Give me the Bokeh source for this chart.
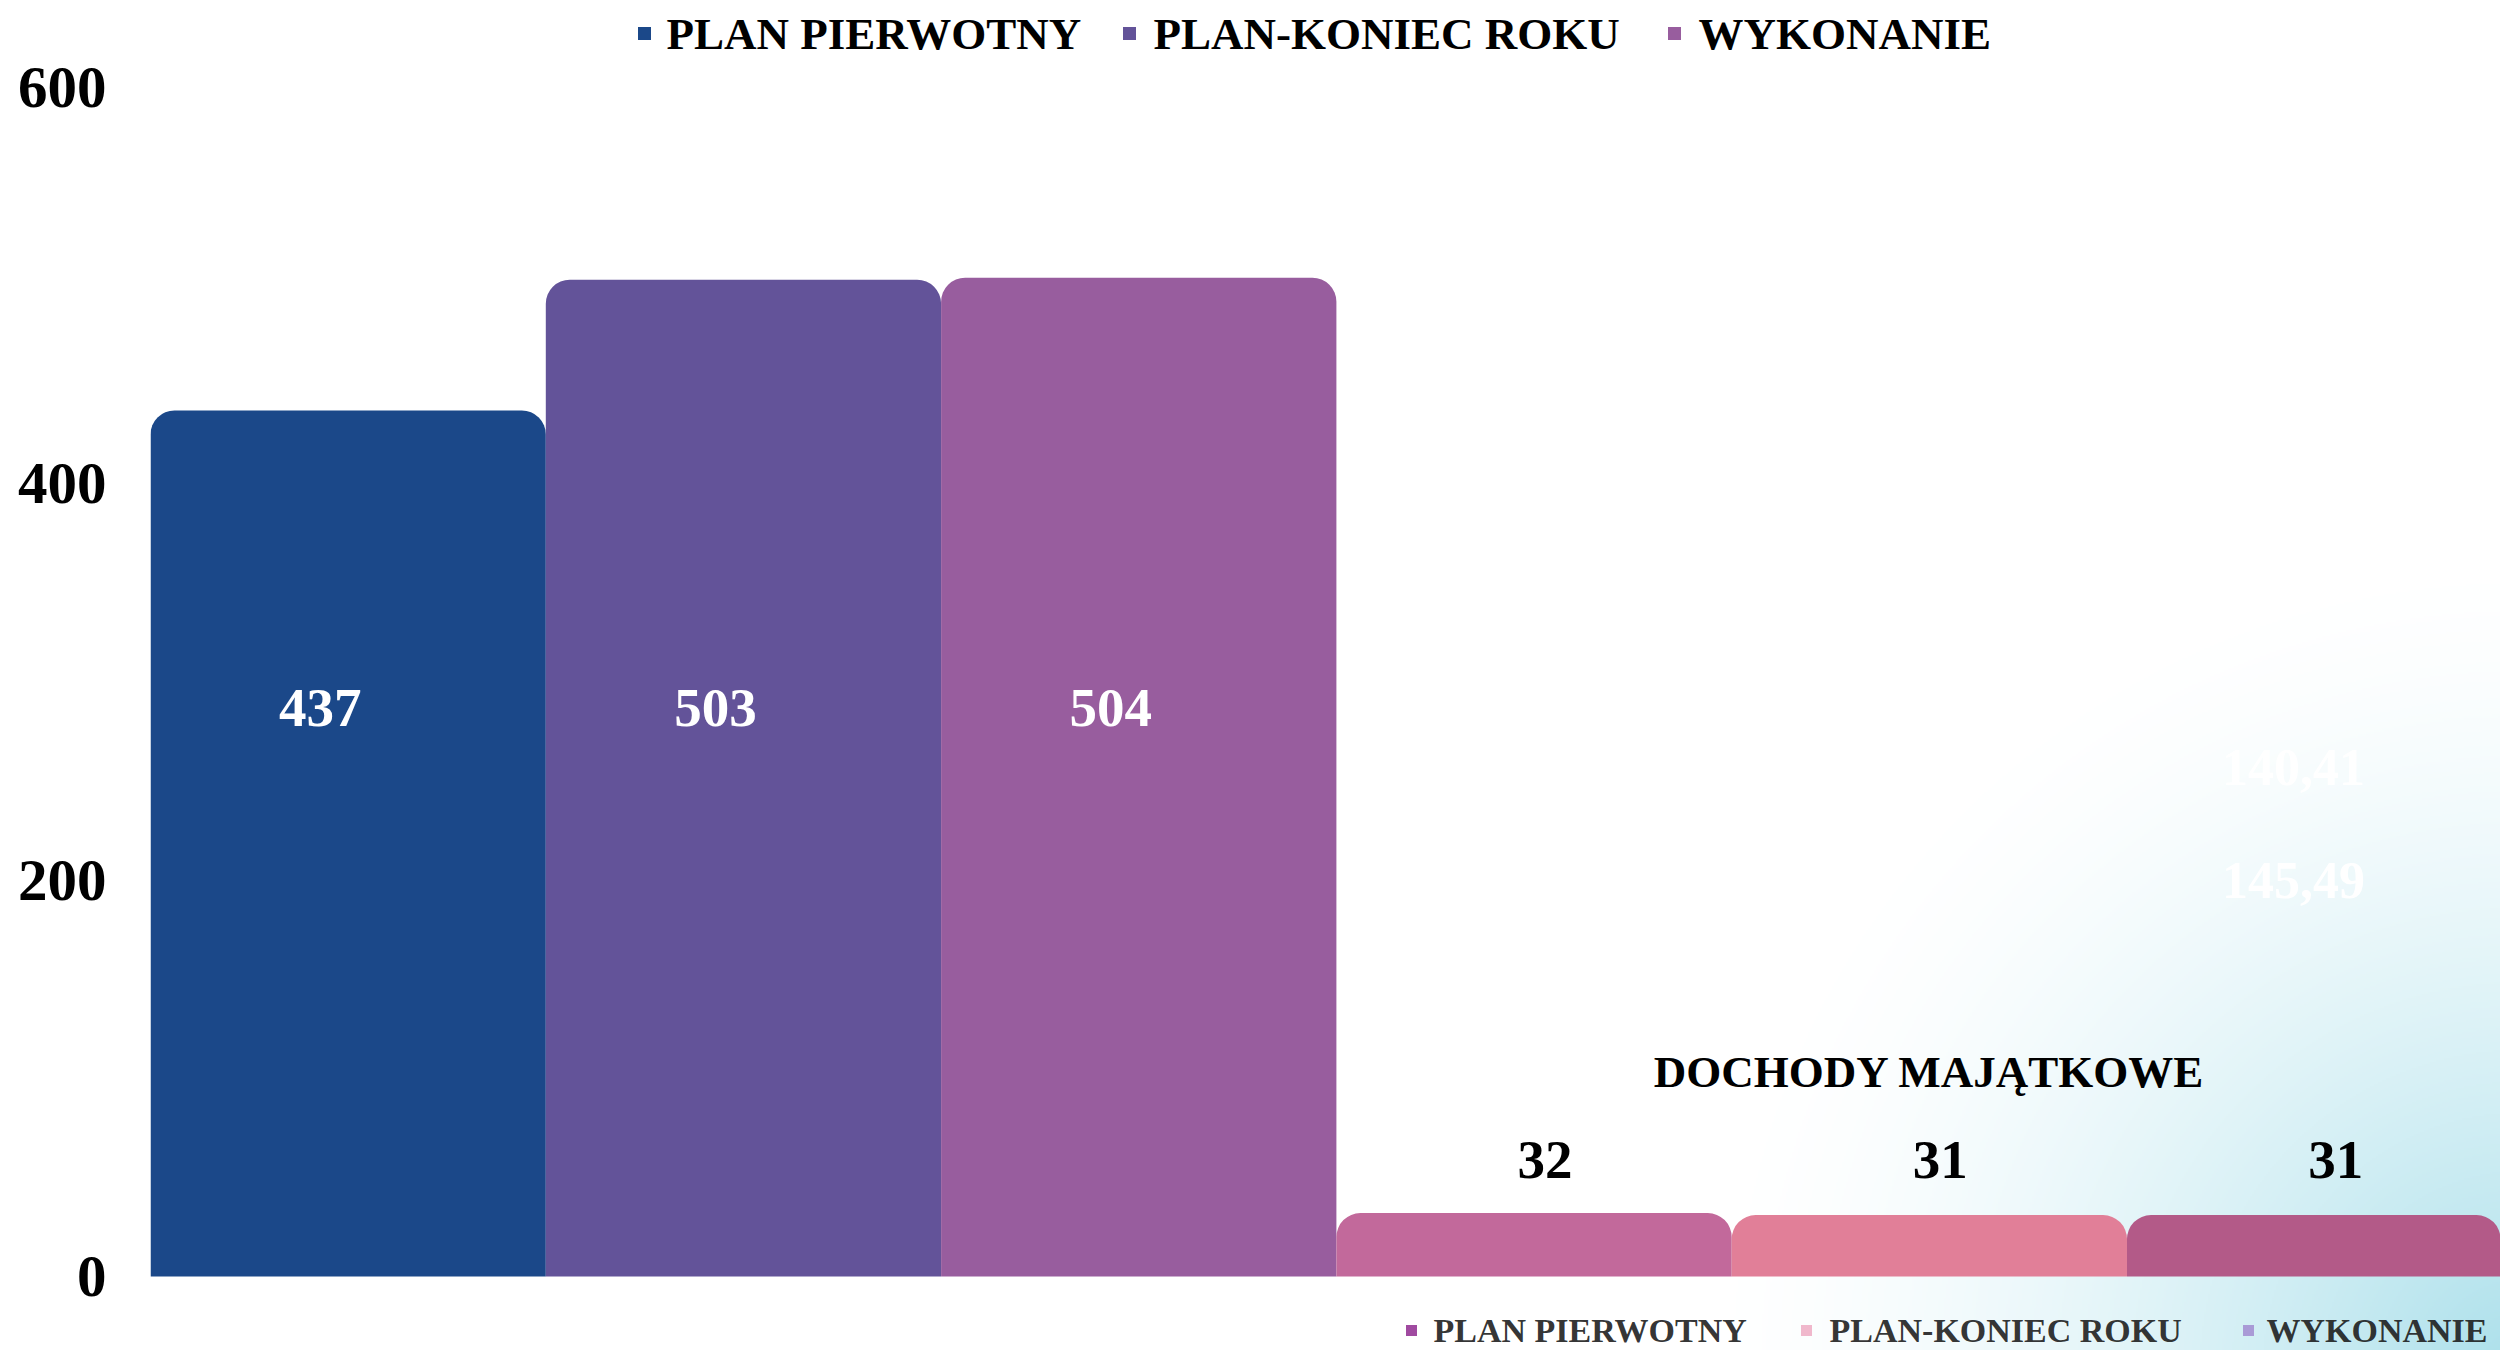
import numpy as np
from bokeh.plotting import figure
from bokeh.models import Range1d, FixedTicker
from bokeh.core.properties import value
from bokeh.embed import file_html
from bokeh.resources import INLINE

# ---------------- data ----------------
series = ["PLAN PIERWOTNY", "PLAN-KONIEC ROKU", "WYKONANIE"]
group2_title = "DOCHODY MAJĄTKOWE"
values_group1 = [437, 503, 504]
values_group2 = [32, 31, 31]
hidden_labels = ["140,41", "145,49"]
y_ticks = [0, 200, 400, 600]
colors_group1 = ["#1b4889", "#635399", "#985d9e"]
colors_group2 = ["#c2699b", "#e17f98", "#b35a88"]
legend2_colors = ["#a04aa0", "#f0b8cc", "#a99ad6"]

# ---------------- layout ----------------
W, H = 2500, 1350
FL = 150            # frame left (canvas px)
BASE = 1276         # canvas y of value 0
PPU_Y = 1189 / 600  # px per value unit
BAR_PX = 395.3      # px per bar

x0 = -0.5
x1 = x0 + (W - FL) / BAR_PX
y1 = BASE / PPU_Y
y0 = -(H - BASE) / PPU_Y


def dx(page_x):
    return x0 + (page_x - FL) / BAR_PX


def dy(page_y):
    return (BASE - page_y) / PPU_Y


FONT = value("Liberation Serif")

p = figure(width=W, height=H, x_range=Range1d(x0, x1), y_range=Range1d(y0, y1),
           output_backend="svg", toolbar_location=None, x_axis_location=None,
           min_border_left=FL, min_border_right=0, min_border_top=0, min_border_bottom=0)
p.outline_line_color = None
p.grid.visible = False
p.background_fill_color = "white"
p.border_fill_color = "white"

ax = p.yaxis[0]
ax.ticker = FixedTicker(ticks=y_ticks)
ax.axis_line_color = None
ax.major_tick_line_color = None
ax.minor_tick_line_color = None
ax.major_label_standoff = 38
ax.major_label_text_font = "Liberation Serif"
ax.major_label_text_font_style = "bold"
ax.major_label_text_font_size = "59px"
ax.major_label_text_color = "black"

# ---------------- gradient background (bottom-right) ----------------
gx0, gx1, gy0, gy1 = 1300, 2500, 450, 1350
step = 2
nx = (gx1 - gx0) // step
ny = (gy1 - gy0) // step
px = gx0 + (np.arange(nx) + 0.5) * step
py = gy1 - (np.arange(ny) + 0.5) * step  # row 0 at bottom
PX, PY = np.meshgrid(px, py)
d = np.sqrt((PX - 2520) ** 2 + (PY - 1370) ** 2)
t = np.clip(1 - d / 820, 0, 1) ** 1.6
cyan = np.array([170, 223, 234])
img = np.empty((ny, nx), dtype=np.uint32)
view = img.view(dtype=np.uint8).reshape((ny, nx, 4))
for k in range(3):
    view[:, :, k] = np.round(255 * (1 - t) + cyan[k] * t).astype(np.uint8)
view[:, :, 3] = 255
p.image_rgba(image=[img], x=dx(gx0), y=dy(gy1), dw=(gx1 - gx0) / BAR_PX, dh=(gy1 - gy0) / PPU_Y)

# ---------------- bars ----------------
xs1 = list(range(len(values_group1)))
xs2 = [len(values_group1) + i for i in range(len(values_group2))]

for xs, vals, cols in ((xs1, values_group1, colors_group1), (xs2, values_group2, colors_group2)):
    try:
        p.vbar(x=xs, top=vals, width=1.0, fill_color=cols, line_color=None,
               border_radius=(24, 24, 0, 0))
    except Exception:
        p.vbar(x=xs, top=vals, width=1.0, fill_color=cols, line_color=None)

# ---------------- labels ----------------
p.text(x=xs1, y=[287] * len(xs1), text=[str(v) for v in values_group1], x_offset=-28,
       text_font=FONT, text_font_style="bold", text_font_size="55px", text_color="white",
       text_align="center", text_baseline="middle")
p.text(x=xs2, y=[59] * len(xs2), text=[str(v) for v in values_group2], x_offset=11,
       text_font=FONT, text_font_style="bold", text_font_size="55px", text_color="black",
       text_align="center", text_baseline="middle")
p.text(x=[xs2[1]], y=[dy(1071)], text=[group2_title],
       text_font=FONT, text_font_style="bold", text_font_size="45px", text_color="black",
       text_align="center", text_baseline="middle")
p.text(x=[dx(2293)] * 2, y=[dy(767), dy(880)], text=hidden_labels,
       text_font=FONT, text_font_style="bold", text_font_size="52px", text_color="white",
       text_align="center", text_baseline="middle")

# ---------------- legends ----------------
top_sq = [644, 1129, 1674]
top_tx = [666, 1153, 1698]
p.scatter(x=[dx(v) for v in top_sq], y=[dy(33)] * 3, marker="square", size=13,
          fill_color=colors_group1, line_color=None)
p.text(x=[dx(v) for v in top_tx], y=[dy(33)] * 3, text=series,
       text_font=FONT, text_font_style="bold", text_font_size="45px", text_color="black",
       text_align="left", text_baseline="middle")

bot_sq = [1411, 1806, 2248]
bot_tx = [1433, 1829, 2266]
p.scatter(x=[dx(v) for v in bot_sq], y=[dy(1330)] * 3, marker="square", size=11,
          fill_color=legend2_colors, line_color=None)
p.text(x=[dx(v) for v in bot_tx], y=[dy(1330)] * 3, text=series,
       text_font=FONT, text_font_style="bold", text_font_size="34px", text_color="#1a1a1a",
       text_alpha=0.9, text_align="left", text_baseline="middle")

open("out.html", "w").write(file_html(p, INLINE))
